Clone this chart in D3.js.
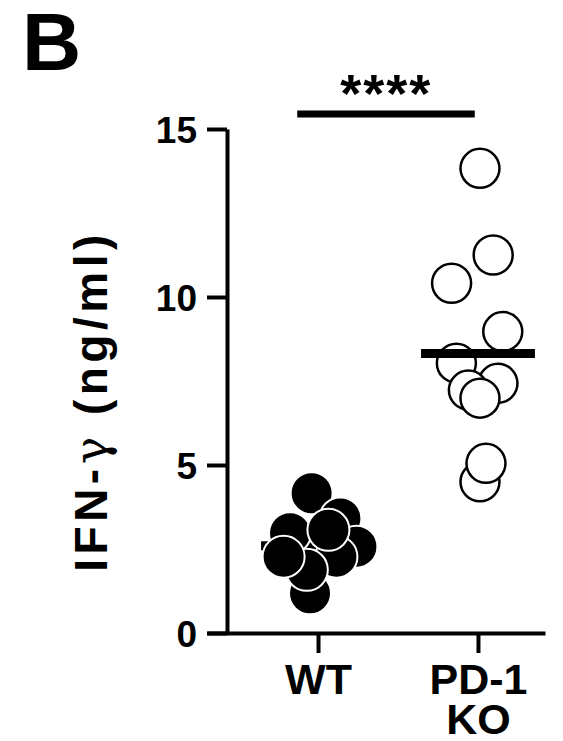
<!DOCTYPE html>
<html>
<head>
<meta charset="utf-8">
<script src="https://cdn.jsdelivr.net/npm/d3@7"></script>
<style>
  html, body { margin: 0; padding: 0; background: #fff; }
  svg { display: block; }
  text { font-family: "Liberation Sans", Arial, Helvetica, sans-serif; font-weight: bold; fill: #000; }
</style>
</head>
<body>
<svg id="chart" width="563" height="741"></svg>
<script>
// ---- data ----
const groups = ["WT", "PD-1 KO"];
const yTicks = [0, 5, 10, 15];
// WT (filled) values and horizontal jitter (category units)
const wtValues = [4.16, 3.41, 2.97, 2.57, 1.18, 2.27, 1.88, 3.07, 2.27];
const wtJitter = [-0.04, 0.14, -0.175, 0.24, -0.05, 0.115, -0.07, 0.065, -0.215];
// PD-1 KO (open) values and jitter
const koValues = [13.83, 11.25, 10.41, 8.97, 8.03, 7.43, 7.23, 6.99, 4.50, 5.05];
const koJitter = [0.0125, 0.095, -0.165, 0.155, -0.135, 0.125, -0.06, 0.0125, 0.0125, 0.05];
const means = [2.6, 8.32];
const sigLabel = "****";
const yTitle = ["IFN-", "\u03B3", " (ng/ml)"];
const panelLabel = "B";

// ---- layout ----
const svg = d3.select("#chart");
const x = d3.scaleLinear().domain([-0.694, 1.419]).range([207, 545]);
const y = d3.scaleLinear().domain([0, 15]).range([633, 129]);
const R = 21;

// panel letter
svg.append("text").attr("x", 22).attr("y", 70)
  .style("font-size", "82px").text(panelLabel);

// y axis
const yAxis = svg.append("g").attr("transform", "translate(227,0)")
  .call(d3.axisLeft(y).tickValues(yTicks).tickSize(20).tickSizeOuter(0).tickPadding(10));
yAxis.selectAll("path, line").attr("stroke", "#000").attr("stroke-width", 4);
yAxis.selectAll("text").style("font-size", "37px").attr("dy", "0.36em")
  .style("font-family", "'Liberation Sans', Arial, sans-serif").style("font-weight", "bold");

// x axis
const xAxis = svg.append("g").attr("transform", "translate(0,633)")
  .call(d3.axisBottom(x).tickValues([0, 1]).tickSize(20).tickSizeOuter(0).tickFormat(""));
xAxis.selectAll("path, line").attr("stroke", "#000").attr("stroke-width", 4);
xAxis.selectAll(".tick").each(function(d) {
  const t = d3.select(this).append("text")
    .attr("y", 61).attr("text-anchor", "middle")
    .style("font-size", "43px").style("fill", "#000")
    .style("font-family", "'Liberation Sans', Arial, sans-serif").style("font-weight", "bold");
  const words = groups[d].split(" ");
  words.forEach((w, i) => {
    t.append("tspan").attr("x", 0).attr("dy", i === 0 ? 0 : 40).text(w);
  });
});

// y title
const yt = svg.append("text")
  .attr("transform", "translate(107,401) rotate(-90)")
  .attr("text-anchor", "middle")
  .style("font-size", "46px")
  .style("letter-spacing", "4.5px");
yt.append("tspan").text(yTitle[0]);
yt.append("tspan").style("font-weight", "normal").style("font-family", "'DejaVu Serif', serif").text(yTitle[1]);
yt.append("tspan").text(yTitle[2]);

// WT mean bar (beneath the filled circles)
const meanLine = (sel) => sel
  .attr("x1", (d) => x(d.i - 0.356)).attr("x2", (d) => x(d.i + 0.356))
  .attr("y1", d => y(d.v)).attr("y2", d => y(d.v))
  .attr("stroke", "#000").attr("stroke-width", 9);
svg.append("g").selectAll("line").data([{ i: 0, v: means[0] }]).join("line").call(meanLine);

// points WT
svg.append("g").selectAll("circle").data(wtValues).join("circle")
  .attr("cx", (d, i) => x(0 + wtJitter[i]))
  .attr("cy", d => y(d))
  .attr("r", R)
  .attr("fill", "#000").attr("stroke", "#fff").attr("stroke-width", 2);

// points KO
svg.append("g").selectAll("circle").data(koValues).join("circle")
  .attr("cx", (d, i) => x(1 + koJitter[i]))
  .attr("cy", d => y(d))
  .attr("r", R - 1.5)
  .attr("fill", "#fff").attr("stroke", "#000").attr("stroke-width", 2.5);

// KO mean bar (over the open circles)
svg.append("g").selectAll("line").data([{ i: 1, v: means[1] }]).join("line").call(meanLine);

// significance
svg.append("line")
  .attr("x1", x(-0.13)).attr("x2", x(0.98)).attr("y1", 114).attr("y2", 114)
  .attr("stroke", "#000").attr("stroke-width", 7);
svg.append("text").attr("x", x(0.42) + 1).attr("y", 112).attr("text-anchor", "middle")
  .style("font-size", "54px").style("letter-spacing", "2px").text(sigLabel);
</script>
</body>
</html>
